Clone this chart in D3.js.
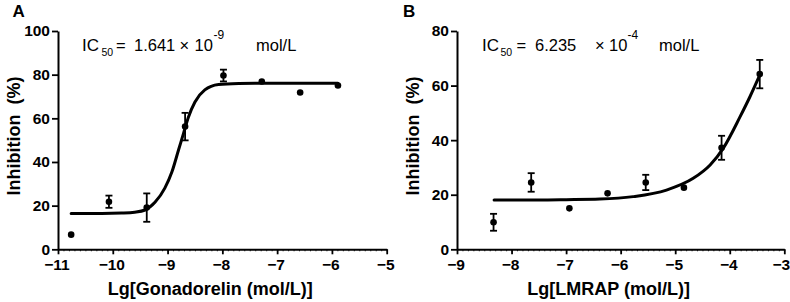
<!DOCTYPE html>
<html>
<head>
<meta charset="utf-8">
<script src="https://cdn.jsdelivr.net/npm/d3@7"></script>
<style>
  html, body { margin: 0; padding: 0; background: #fff; }
  svg { display: block; }
  text { font-family: "Liberation Sans", Arial, sans-serif; fill: #000; }
</style>
</head>
<body>
<svg id="chart" width="790" height="302"></svg>
<script>
// ---------- Data ----------
// Panel A: Gonadorelin
const aLogConc = [-10.76, -10.07, -9.38, -8.68, -7.98, -7.28, -6.58, -5.89];
const aInhib   = [6.7, 21.8, 19.1, 56.2, 79.6, 76.9, 71.8, 75.0];
const aErr     = [0, 2.8, 6.5, 6.3, 2.7, 0, 0, 0];
const aFitX    = [-10.76, -10.2, -9.84, -9.6, -9.41, -9.23, -9.05, -8.92, -8.80, -8.71, -8.62, -8.50, -8.32, -8.07, -7.7, -7.4, -5.89];
const aFitY    = [16.4, 16.4, 16.6, 17.0, 18.0, 21.5, 28.0, 35.5, 45.5, 53.0, 60.5, 67.5, 73.0, 75.5, 76.0, 76.1, 76.1];
const aXTicks  = [-11, -10, -9, -8, -7, -6, -5];
const aYTicks  = [0, 20, 40, 60, 80, 100];

// Panel B: LMRAP
const bLogConc = [-8.33, -7.64, -6.94, -6.24, -5.54, -4.84, -4.15, -3.45];
const bInhib   = [9.9, 24.5, 15.0, 20.5, 24.5, 22.6, 37.2, 64.2];
const bErr     = [3.1, 3.4, 0, 0, 2.8, 0, 4.4, 5.2];
const bFitX    = [-8.32, -7.5, -7.0, -6.38, -5.77, -5.16, -4.67, -4.36, -4.12, -3.81, -3.63, -3.45];
const bFitY    = [18.1, 18.1, 18.2, 18.4, 19.3, 21.7, 26.0, 30.9, 37.0, 48.6, 55.9, 63.8];
const bXTicks  = [-9, -8, -7, -6, -5, -4, -3];
const bYTicks  = [0, 20, 40, 60, 80];

const panels = [
  { letter: "A", xDomain: [-11, -5], yDomain: [0, 100], xRange: [58, 386.7],
    xs: aLogConc, ys: aInhib, errs: aErr, fx: aFitX, fy: aFitY,
    xTicks: aXTicks, yTicks: aYTicks,
    xTitle: "Lg[Gonadorelin (mol/L)]",
    letterX: 12.5, ic: { val: "1.641", exp: "-9",
      pos: { ic: 82, sub: 101.5, eq: 116, val: 134, times: 179.5, ten: 194.5, sup: 213.5, unit: 256 } } },
  { letter: "B", xDomain: [-9, -3], yDomain: [0, 80], xRange: [457, 784.3],
    xs: bLogConc, ys: bInhib, errs: bErr, fx: bFitX, fy: bFitY,
    xTicks: bXTicks, yTicks: bYTicks,
    xTitle: "Lg[LMRAP (mol/L)]",
    letterX: 403, ic: { val: "6.235", exp: "-4",
      pos: { ic: 482, sub: 500.5, eq: 516.5, val: 535, times: 595, ten: 609, sup: 627.5, unit: 659 } } }
];

const svg = d3.select("#chart");
const yRange = [249.3, 31];

panels.forEach((p, pi) => {
  const x = d3.scaleLinear().domain(p.xDomain).range(p.xRange);
  const y = d3.scaleLinear().domain(p.yDomain).range(yRange);
  const g = svg.append("g");

  // minor x ticks
  const minor = d3.range(p.xDomain[0] * 10, p.xDomain[1] * 10 + 1).map(v => v / 10);
  g.append("g")
    .attr("transform", `translate(0,${yRange[0]})`)
    .call(d3.axisBottom(x).tickValues(minor).tickSize(2).tickFormat(""))
    .call(s => s.select(".domain").remove())
    .call(s => s.selectAll(".tick line").attr("stroke", "#000").attr("stroke-width", 0.8));

  // x axis
  const xa = g.append("g")
    .attr("transform", `translate(0,${yRange[0]})`)
    .call(d3.axisBottom(x).tickValues(p.xTicks).tickSize(5).tickSizeOuter(0).tickPadding(5)
      .tickFormat(d => d3.format("d")(d)));
  xa.select(".domain").attr("stroke", "#000").attr("stroke-width", 2);
  xa.selectAll(".tick line").attr("stroke", "#000").attr("stroke-width", 1.8);
  xa.selectAll(".tick text").attr("font-size", 15.5).attr("font-weight", "bold")
    .attr("font-family", "Liberation Sans, Arial, sans-serif")
    .attr("dx", (d, i, n) => (pi === 1 && i === n.length - 1) ? -3.5 : -1.5);

  // y axis
  const ya = g.append("g")
    .attr("transform", `translate(${p.xRange[0]},0)`)
    .call(d3.axisLeft(y).tickValues(p.yTicks).tickSize(6).tickSizeOuter(0).tickPadding(2));
  ya.select(".domain").attr("stroke", "#000").attr("stroke-width", 2);
  ya.selectAll(".tick line").attr("stroke", "#000").attr("stroke-width", 1.8);
  ya.selectAll(".tick text").attr("font-size", 15.5).attr("font-weight", "bold")
    .attr("font-family", "Liberation Sans, Arial, sans-serif");

  // axis titles
  g.append("text")
    .attr("x", (p.xRange[0] + p.xRange[1]) / 2 - 12).attr("y", 295)
    .attr("text-anchor", "middle").attr("font-size", 18).attr("font-weight", "bold")
    .text(p.xTitle);
  g.append("text")
    .attr("transform", `translate(${p.xRange[0] - 38},136) rotate(-90)`)
    .attr("text-anchor", "middle").attr("font-size", 18).attr("font-weight", "bold")
    .attr("xml:space", "preserve").style("white-space", "pre")
    .text("Inhibition  (%)");

  // panel letter
  g.append("text").attr("x", p.letterX).attr("y", 16.5)
    .attr("font-size", 17).attr("font-weight", "bold").text(p.letter);

  // IC50 annotation
  const ps = p.ic.pos, base = 50.5;
  const t = (txt, xx, yy, fs) => g.append("text").attr("x", xx).attr("y", yy)
    .attr("font-size", fs).text(txt);
  t("IC", ps.ic, base, 17);
  t("50", ps.sub, base + 5, 10.5);
  t("=", ps.eq, base, 16.5);
  t(p.ic.val, ps.val, base, 16.5);
  t("\u00d7", ps.times, base, 16.5);
  t("10", ps.ten, base, 16.5);
  t(p.ic.exp, ps.sup, base - 12, 12);
  t("mol/L", ps.unit, base, 16.5);

  // fitted curve
  const fit = p.fx.map((v, i) => [v, p.fy[i]]);
  g.append("path")
    .datum(fit)
    .attr("fill", "none").attr("stroke", "#000").attr("stroke-width", 3)
    .attr("stroke-linecap", "round")
    .attr("d", d3.line().x(d => x(d[0])).y(d => y(d[1])).curve(d3.curveMonotoneX));

  // error bars
  const pts = p.xs.map((v, i) => ({ x: v, y: p.ys[i], e: p.errs[i] }));
  const eb = g.append("g").attr("stroke", "#000").attr("stroke-width", 1.8);
  pts.filter(d => d.e > 0).forEach(d => {
    const cx = x(d.x);
    eb.append("line").attr("x1", cx).attr("x2", cx).attr("y1", y(d.y - d.e)).attr("y2", y(d.y + d.e));
    eb.append("line").attr("x1", cx - 3.5).attr("x2", cx + 3.5).attr("y1", y(d.y + d.e)).attr("y2", y(d.y + d.e));
    eb.append("line").attr("x1", cx - 3.5).attr("x2", cx + 3.5).attr("y1", y(d.y - d.e)).attr("y2", y(d.y - d.e));
  });

  // points
  g.append("g").selectAll("circle").data(pts).join("circle")
    .attr("cx", d => x(d.x)).attr("cy", d => y(d.y)).attr("r", 3.3).attr("fill", "#000");
});
</script>
</body>
</html>
